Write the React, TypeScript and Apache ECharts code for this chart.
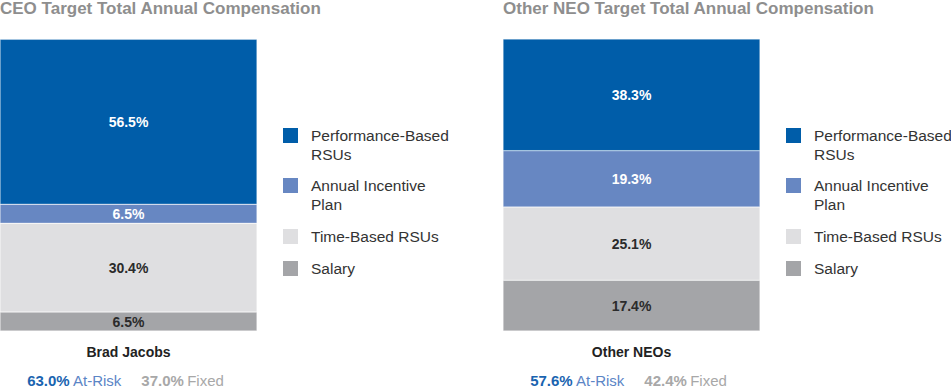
import React, { useEffect, useRef } from "react";
import * as echarts from "echarts";

const titles = ["CEO Target Total Annual Compensation", "Other NEO Target Total Annual Compensation"];
const groups = ["Brad Jacobs", "Other NEOs"];
const components = ["Salary", "Time-Based RSUs", "Annual Incentive Plan", "Performance-Based RSUs"];
const legendLabels = ["Performance-Based\nRSUs", "Annual Incentive\nPlan", "Time-Based RSUs", "Salary"];
const legendOrder = ["Performance-Based RSUs", "Annual Incentive Plan", "Time-Based RSUs", "Salary"];
// values per group, order matches components (bottom to top)
const ceoValues = [6.5, 30.4, 6.5, 56.5];
const neoValues = [17.4, 25.1, 19.3, 38.3];
const atRisk = [63.0, 57.6];
const fixed = [37.0, 42.4];

const colors: Record<string, string> = {
  "Salary": "#A4A5A8",
  "Time-Based RSUs": "#DFDFE1",
  "Annual Incentive Plan": "#6787C2",
  "Performance-Based RSUs": "#005DA9",
};
const labelColors: Record<string, string> = {
  "Salary": "#2b2b2b",
  "Time-Based RSUs": "#2b2b2b",
  "Annual Incentive Plan": "#ffffff",
  "Performance-Based RSUs": "#ffffff",
};

const FONT = "Liberation Sans, Arial, sans-serif";
const panelLeft = [0, 503];
const barW = 257;
const gridTop = 39;
const gridH = 292;

export default function App() {
  const ref = useRef<HTMLDivElement>(null);
  useEffect(() => {
    document.body.style.margin = "0";
    const chart = echarts.init(ref.current!, undefined, { renderer: "svg" });
    const allValues = [ceoValues, neoValues];
    const series: any[] = [];
    allValues.forEach((vals, gi) => {
      components.forEach((name, ci) => {
        series.push({
          type: "bar",
          name,
          stack: "s" + gi,
          xAxisIndex: gi,
          yAxisIndex: gi,
          barWidth: "100%",
          data: [vals[ci]],
          itemStyle: { color: colors[name], borderColor: "rgba(255,255,255,0.6)", borderWidth: 0.5 },
          label: {
            show: true,
            position: "inside",
            formatter: (p: any) => Number(p.value).toFixed(1) + "%",
            color: labelColors[name],
            fontFamily: FONT,
            fontWeight: "bold",
            fontSize: 14,
          },
        });
      });
    });

    const graphics: any[] = [];
    panelLeft.forEach((left, gi) => {
      const lx = left + 283;
      const tx = left + 311;
      const squareTops = [128, 178, 229, 261];
      legendOrder.forEach((name, i) => {
        graphics.push({
          type: "rect",
          shape: { x: lx, y: squareTops[i], width: 15, height: 15 },
          style: { fill: colors[name] },
        });
        graphics.push({
          type: "text",
          x: tx,
          y: squareTops[i] - 2,
          style: {
            text: legendLabels[i],
            fill: "#333333",
            font: `15.5px ${FONT}`,
            lineHeight: 19,
            verticalAlign: "top",
          },
        });
      });
      graphics.push({
        type: "text",
        x: left + barW / 2 - 3,
        y: 380,
        style: {
          text: `{a|${atRisk[gi].toFixed(1)}%} {b|At-Risk}      {c|${fixed[gi].toFixed(1)}%} {d|Fixed}`,
          align: "center",
          verticalAlign: "middle",
          rich: {
            a: { fill: "#1A64B0", fontWeight: "bold", fontSize: 15, fontFamily: FONT },
            b: { fill: "#5B85C6", fontSize: 15, fontFamily: FONT },
            c: { fill: "#A8A8A8", fontWeight: "bold", fontSize: 15, fontFamily: FONT },
            d: { fill: "#A8A8A8", fontSize: 15, fontFamily: FONT },
          },
        },
      });
    });

    chart.setOption({
      animation: false,
      title: titles.map((t, i) => ({
        text: t,
        left: panelLeft[i],
        top: 0,
        padding: 0,
        textStyle: { color: "#8E8E8E", fontSize: 17, fontWeight: "bold", fontFamily: FONT },
      })),
      grid: panelLeft.map((l) => ({ left: l, top: gridTop, width: barW, height: gridH, containLabel: false })),
      xAxis: groups.map((g, i) => ({
        type: "category",
        gridIndex: i,
        data: [g],
        axisLine: { show: false },
        axisTick: { show: false },
        axisLabel: { color: "#222222", fontWeight: "bold", fontSize: 14, fontFamily: FONT, margin: 14 },
      })),
      yAxis: groups.map((_, i) => ({
        type: "value",
        gridIndex: i,
        min: 0,
        max: i === 0 ? 100 : 100.1,
        show: false,
        splitLine: { show: false },
      })),
      series,
      graphic: graphics,
    });
    return () => chart.dispose();
  }, []);
  return <div ref={ref} style={{ width: 951, height: 391 }} />;
}
